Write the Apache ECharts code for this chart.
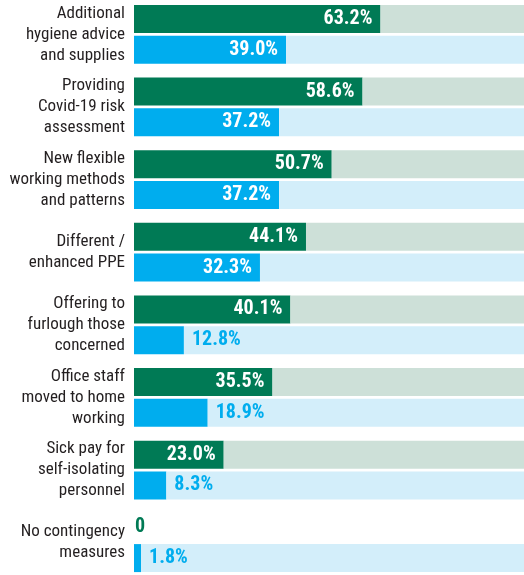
<!DOCTYPE html>
<html>
<head>
<meta charset="utf-8">
<script src="https://cdn.jsdelivr.net/npm/echarts@6/dist/echarts.min.js"></script>
<style>
  html, body { margin: 0; padding: 0; background: #fff; }
  #chart { width: 524px; height: 575px; }
</style>
</head>
<body>
<div id="chart"></div>
<script>
const categories = [
  'Additional\nhygiene advice\nand supplies',
  'Providing\nCovid-19 risk\nassessment',
  'New flexible\nworking methods\nand patterns',
  'Different /\nenhanced PPE',
  'Offering to\nfurlough those\nconcerned',
  'Office staff\nmoved to home\nworking',
  'Sick pay for\nself-isolating\npersonnel',
  'No contingency\nmeasures',
];

const greenValues = [63.2, 58.6, 50.7, 44.1, 40.1, 35.5, 23.0, 0];
const blueValues = [39.0, 37.2, 37.2, 32.3, 12.8, 18.9, 8.3, 1.8];

const GREEN = '#007a55';
const BLUE = '#00adee';
const GREEN_BG = '#cde0d8';
const BLUE_BG = '#d3eefa';
const FONT = '"Roboto Condensed", "DejaVu Sans Condensed", sans-serif';
const MAX = 100;

// big bars get a white label inside, short ones a coloured label after the bar
const toItems = (values, color) => values.map((v) => {
  const inside = v >= 20;
  return {
    value: v,
    label: {
      position: inside ? 'insideRight' : 'right',
      color: inside ? '#fff' : color,
      distance: v === 0 ? 1 : 8,
      formatter: v === 0 ? '0' : v.toFixed(1) + '%',
    },
  };
});

// the pale track after each bar; a zero bar has none
const rest = (values) => values.map((v) => (v > 0 ? MAX - v : null));

const labelStyle = {
  show: true,
  fontFamily: FONT,
  fontWeight: 'bold',
  fontSize: 20,
};

const chart = echarts.init(document.getElementById('chart'));

chart.setOption({
  animation: false,
  grid: {
    left: 134, right: 0, top: -2, bottom: -4,
    containLabel: false,
    outerBoundsMode: 'none',
  },
  xAxis: {
    type: 'value',
    min: 0,
    max: MAX,
    show: false,
  },
  yAxis: {
    type: 'category',
    inverse: true,
    data: categories,
    axisLine: { show: false },
    axisTick: { show: false },
    axisLabel: {
      margin: 9,
      fontFamily: FONT,
      fontSize: 17,
      lineHeight: 21,
      color: '#231f20',
    },
  },
  series: [
    {
      name: 'green',
      type: 'bar',
      stack: 'g',
      barWidth: 28,
      barGap: '10%',
      data: toItems(greenValues, GREEN),
      itemStyle: { color: GREEN },
      label: labelStyle,
    },
    {
      name: 'greenRest',
      type: 'bar',
      stack: 'g',
      barWidth: 28,
      data: rest(greenValues),
      itemStyle: { color: GREEN_BG },
      silent: true,
    },
    {
      name: 'blue',
      type: 'bar',
      stack: 'b',
      barWidth: 28,
      data: toItems(blueValues, BLUE),
      itemStyle: { color: BLUE },
      label: labelStyle,
    },
    {
      name: 'blueRest',
      type: 'bar',
      stack: 'b',
      barWidth: 28,
      barGap: '10%',
      data: rest(blueValues),
      itemStyle: { color: BLUE_BG },
      silent: true,
    },
  ],
});
</script>
</body>
</html>
